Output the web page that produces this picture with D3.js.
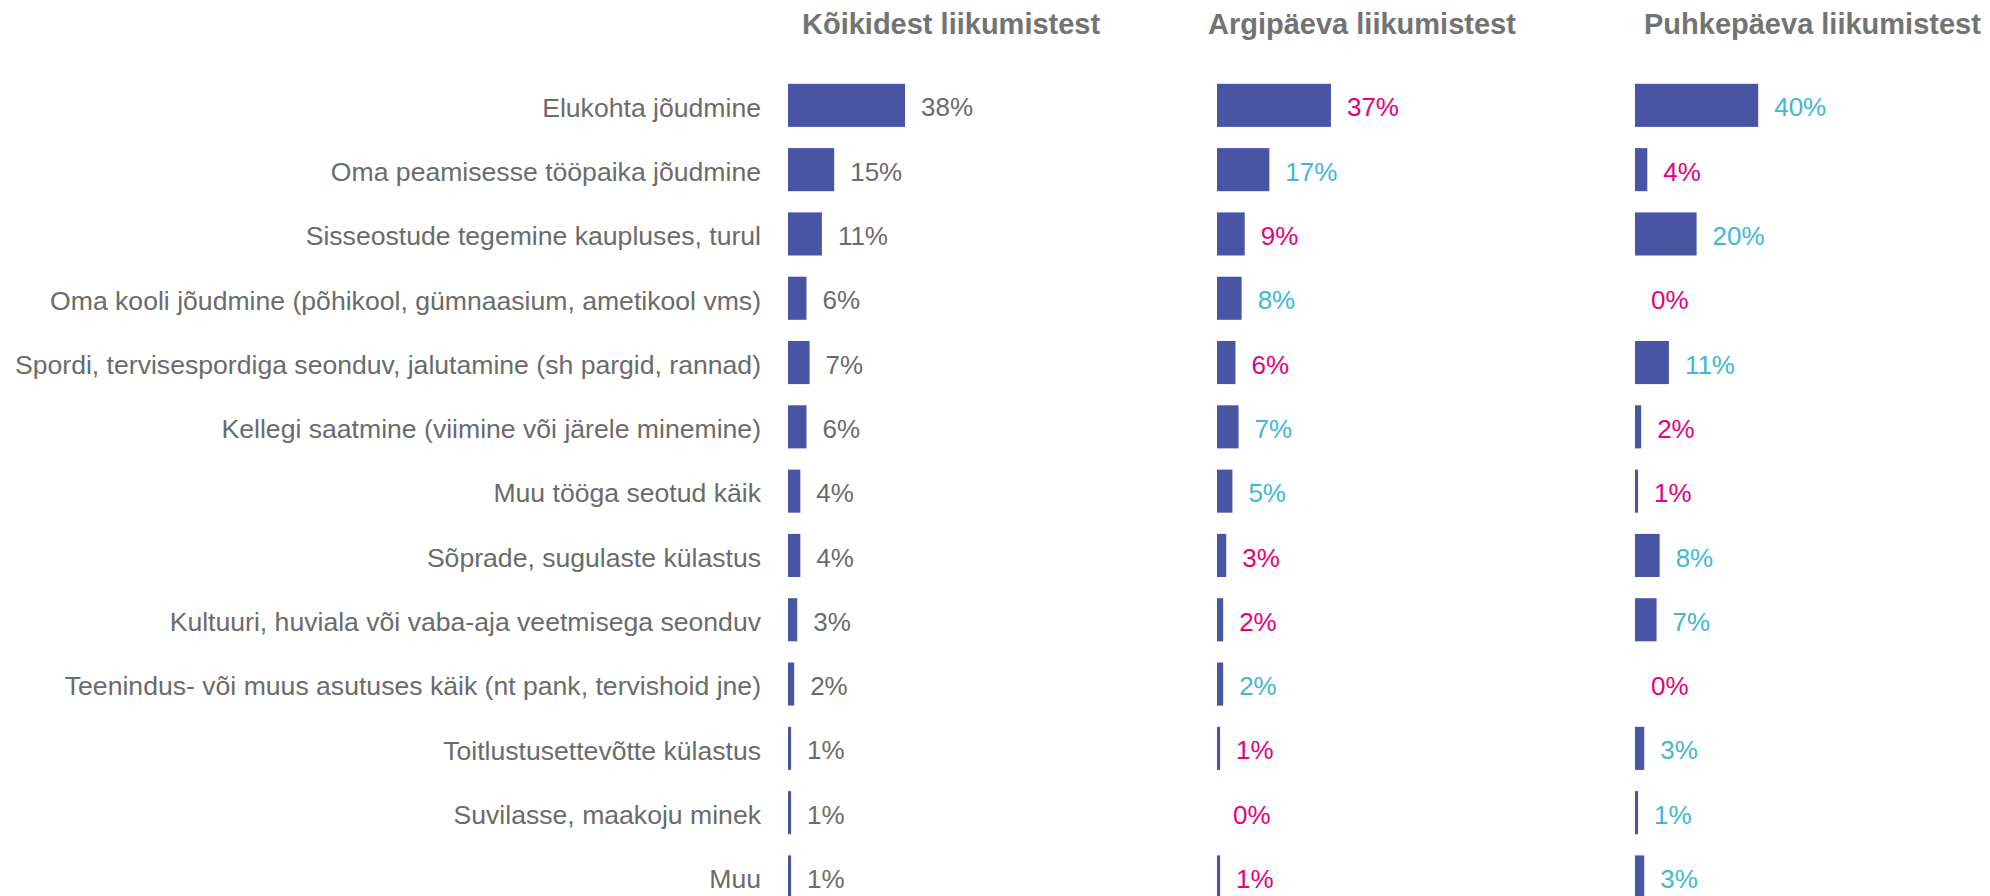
<!DOCTYPE html>
<html>
<head>
<meta charset="utf-8">
<script src="https://cdn.jsdelivr.net/npm/d3@7"></script>
<style>
  html, body { margin: 0; padding: 0; background: #fff; }
  svg { display: block; font-family: "Liberation Sans", Arial, sans-serif; }
</style>
</head>
<body>
<svg id="chart" width="1990" height="896"></svg>
<script>
// liikumiste eesmärgid
const categories = [
  "Elukohta jõudmine",
  "Oma peamisesse tööpaika jõudmine",
  "Sisseostude tegemine kaupluses, turul",
  "Oma kooli jõudmine (põhikool, gümnaasium, ametikool vms)",
  "Spordi, tervisespordiga seonduv, jalutamine (sh pargid, rannad)",
  "Kellegi saatmine (viimine või järele minemine)",
  "Muu tööga seotud käik",
  "Sõprade, sugulaste külastus",
  "Kultuuri, huviala või vaba-aja veetmisega seonduv",
  "Teenindus- või muus asutuses käik (nt pank, tervishoid jne)",
  "Toitlustusettevõtte külastus",
  "Suvilasse, maakoju minek",
  "Muu"
];

const columnTitles = ["Kõikidest liikumistest", "Argipäeva liikumistest", "Puhkepäeva liikumistest"];

const allTrips     = [38, 15, 11, 6, 7, 6, 4, 4, 3, 2, 1, 1, 1];
const weekdayTrips = [37, 17, 9, 8, 6, 7, 5, 3, 2, 2, 1, 0, 1];
const weekendTrips = [40, 4, 20, 0, 11, 2, 1, 8, 7, 0, 3, 1, 3];

// kas osakaal on suurem kui kõikidest liikumistest (määrab sildi värvi)
const weekdayAbove = [false, true, false, true, false, true, true, false, false, true, false, false, false];
const weekendAbove = [true, false, true, false, true, false, false, true, true, false, true, true, true];

const barColor = "#4855a5";
const greyText = "#6b6b6b";
const higherColor = "#41b7d4";
const lowerColor = "#e6007e";

const svg = d3.select("#chart");

const step = 64.3;
const y = d3.scaleBand()
  .domain(categories)
  .range([73.2, 73.2 + step * categories.length])
  .paddingInner(0.33)
  .paddingOuter(0.165);

const x = d3.scaleLinear().domain([0, 100]).range([0, 308]);

const columns = [
  { title: columnTitles[0], values: allTrips, above: null, x0: 788, titleX: 802 },
  { title: columnTitles[1], values: weekdayTrips, above: weekdayAbove, x0: 1217, titleX: 1208 },
  { title: columnTitles[2], values: weekendTrips, above: weekendAbove, x0: 1635, titleX: 1644 }
];

// kategooriate sildid
svg.append("g")
  .selectAll("text")
  .data(categories)
  .enter()
  .append("text")
  .attr("x", 761)
  .attr("y", d => y(d) + y.bandwidth() / 2 + 2)
  .attr("dy", "0.35em")
  .attr("text-anchor", "end")
  .style("font-size", "26.6px")
  .style("fill", greyText)
  .text(d => d);

columns.forEach(col => {
  const g = svg.append("g").attr("transform", `translate(${col.x0},0)`);

  svg.append("text")
    .attr("x", col.titleX)
    .attr("y", 34)
    .style("font-size", "29px")
    .style("font-weight", "bold")
    .style("fill", "#737373")
    .text(col.title);

  const rows = categories.map((c, i) => ({
    cat: c,
    value: col.values[i],
    above: col.above ? col.above[i] : null
  }));

  g.selectAll("rect")
    .data(rows.filter(d => d.value > 0))
    .enter()
    .append("rect")
    .attr("x", 0)
    .attr("y", d => y(d.cat))
    .attr("width", d => x(d.value))
    .attr("height", y.bandwidth())
    .attr("fill", barColor);

  g.selectAll("text.value")
    .data(rows)
    .enter()
    .append("text")
    .attr("class", "value")
    .attr("x", d => x(d.value) + 16)
    .attr("y", d => y(d.cat) + y.bandwidth() / 2 + 2)
    .attr("dy", "0.35em")
    .style("font-size", "26px")
    .style("fill", d => d.above === null ? greyText : (d.above ? higherColor : lowerColor))
    .text(d => `${d.value}%`);
});
</script>
</body>
</html>
